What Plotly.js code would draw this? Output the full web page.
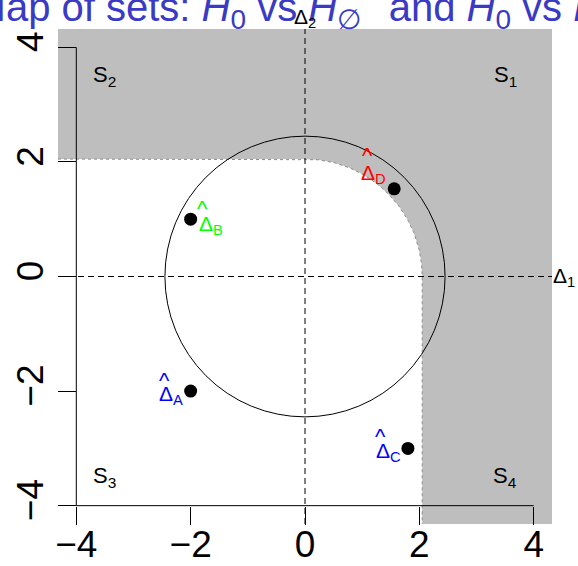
<!DOCTYPE html>
<html>
<head>
<meta charset="utf-8">
<script src="https://cdn.plot.ly/plotly-3.0.1.min.js"></script>
<style>
  html, body { margin: 0; padding: 0; background: #ffffff; }
  #plot { width: 578px; height: 566px; }
</style>
</head>
<body>
<div id="plot"></div>
<script>
// Estimates and their labels
const pointNames = ['A', 'B', 'C', 'D'];
const pointX = [-2, -2, 1.8, 1.56];
const pointY = [-2, 1, -3, 1.53];

// Region labels S1..S4
const regionNames = ['1', '2', '3', '4'];
const regionX = [3.5, -3.5, -3.5, 3.5];
const regionY = [3.5, 3.5, -3.5, -3.5];

// Axis ticks
const tickVals = [-4, -2, 0, 2, 4];
const tickText = ['\u22124', '\u22122', '0', '2', '4'];

// Rejection boundary level and circle radius
const innerLevel = 2.05;
const circleRadius = 2.45;

// ---- styling ----
const AX = 4.32;                // axis extent (R-style 4% padding around ±4)
const FONT = 'Liberation Sans, Arial, Helvetica, sans-serif';
const labelColors = ['#0000ff', '#00ff00', '#0000ff', '#ff0000'];
// pixel placement of each hat-Delta label relative to its point
const labelPlace = [
  { anchor: 'right', dx: -6, dy: -4, hx: -26, hy: 11 },
  { anchor: 'left',  dx: 6,  dy: -6, hx: 12,  hy: 11 },
  { anchor: 'right', dx: -5, dy: -4, hx: -27, hy: 12 },
  { anchor: 'right', dx: -6, dy: 15, hx: -27, hy: 33 }
];

// Gray region: everything outside {x<c, y<c} with the first-quadrant corner
// rounded off by the circle of radius c.
function arcPoints(r, n) {
  const xs = [], ys = [];
  for (let i = 0; i <= n; i++) {
    const t = (Math.PI / 2) * i / n;
    xs.push(r * Math.cos(t));
    ys.push(r * Math.sin(t));
  }
  return { xs, ys };
}
const arc = arcPoints(innerLevel, 90);
// boundary: left edge -> (0,c) -> arc -> (c,0) -> bottom edge
const bX = [-AX, 0].concat(arc.xs.slice().reverse().slice(1)).concat([innerLevel]);
const bY = [innerLevel, innerLevel].concat(arc.ys.slice().reverse().slice(1)).concat([-AX]);
const grayX = [-AX, AX, AX].concat(bX.slice().reverse()).concat([-AX]);
const grayY = [AX, AX, -AX].concat(bY.slice().reverse()).concat([AX]);

const traces = [
  {
    type: 'scatter', mode: 'lines', x: grayX, y: grayY,
    fill: 'toself', fillcolor: '#bebebe', line: { width: 0 },
    hoverinfo: 'skip', showlegend: false
  },
  {
    type: 'scatter', mode: 'lines', x: bX, y: bY,
    line: { color: '#8a8a8a', width: 1, dash: 'dot' },
    hoverinfo: 'skip', showlegend: false
  },
  {
    type: 'scatter', mode: 'markers', x: pointX, y: pointY,
    marker: { color: '#000000', size: 13 },
    hoverinfo: 'skip', showlegend: false
  }
];

const shapes = [
  // circle
  { type: 'circle', xref: 'x', yref: 'y', x0: -circleRadius, x1: circleRadius,
    y0: -circleRadius, y1: circleRadius, line: { color: '#000', width: 1 }, layer: 'above' },
  // dashed reference lines
  { type: 'line', xref: 'x', yref: 'y', x0: 0, x1: 0, y0: -AX, y1: AX,
    line: { color: '#000', width: 1, dash: '6px,4px' }, layer: 'above' },
  { type: 'line', xref: 'x', yref: 'y', x0: -AX, x1: AX, y0: 0, y1: 0,
    line: { color: '#000', width: 1, dash: '6px,4px' }, layer: 'above' },
  // axis lines spanning the tick range
  { type: 'line', xref: 'x', yref: 'y', x0: tickVals[0], x1: tickVals[tickVals.length - 1],
    y0: tickVals[0], y1: tickVals[0], line: { color: '#000', width: 1 }, layer: 'above' },
  { type: 'line', xref: 'x', yref: 'y', x0: tickVals[0], x1: tickVals[0],
    y0: tickVals[0], y1: tickVals[tickVals.length - 1], line: { color: '#000', width: 1 }, layer: 'above' }
];

const annotations = [];
pointNames.forEach((nm, i) => {
  const p = labelPlace[i];
  annotations.push({
    x: pointX[i], y: pointY[i], xref: 'x', yref: 'y',
    text: '\u0394<sub>' + nm + '</sub>', showarrow: false,
    xanchor: p.anchor, yanchor: 'middle', xshift: p.dx, yshift: p.dy,
    font: { family: FONT, size: 21, color: labelColors[i] }
  });
  annotations.push({
    x: pointX[i], y: pointY[i], xref: 'x', yref: 'y',
    text: '^', showarrow: false,
    xanchor: 'center', yanchor: 'middle', xshift: p.hx, yshift: p.hy,
    font: { family: FONT, size: 22, color: labelColors[i] }
  });
});
regionNames.forEach((nm, i) => {
  annotations.push({
    x: regionX[i], y: regionY[i], xref: 'x', yref: 'y',
    text: 'S<sub>' + nm + '</sub>', showarrow: false,
    xanchor: 'center', yanchor: 'middle',
    font: { family: FONT, size: 22, color: '#000' }
  });
});
// axis names
annotations.push({
  x: 1, y: 0, xref: 'paper', yref: 'y', text: '\u0394<sub>1</sub>', showarrow: false,
  xanchor: 'left', yanchor: 'middle', xshift: -1,
  font: { family: FONT, size: 21, color: '#000' }
});
annotations.push({
  x: 0, y: 1, xref: 'x', yref: 'paper', text: '\u0394<sub>2</sub>', showarrow: false,
  xanchor: 'center', yanchor: 'bottom', yshift: -4,
  font: { family: FONT, size: 21, color: '#000' }
});

const frac = (tickVals[0] + AX) / (2 * AX);

const layout = {
  width: 578, height: 566,
  margin: { l: 58, r: 26, t: 29, b: 42, pad: 0 },
  paper_bgcolor: '#ffffff', plot_bgcolor: '#ffffff',
  showlegend: false,
  title: {
    text: 'Map of sets: <i>H</i><sub>0</sub> vs <i>H</i><sub>\u2205</sub><sup>\u2032</sup>  and <i>H</i><sub>0</sub> vs <i>H</i><sub>1</sub>',
    font: { family: FONT, size: 40, color: '#3a3ac4' },
    x: 0.48, xref: 'paper', xanchor: 'center',
    y: 0.988, yref: 'container', yanchor: 'middle'
  },
  xaxis: {
    range: [-AX, AX], anchor: 'free', position: frac,
    tickvals: tickVals, ticktext: tickText, ticks: 'outside', ticklen: 18, tickwidth: 1, tickcolor: '#000',
    ticklabelstandoff: -12,
    showline: false, showgrid: false, zeroline: false,
    tickfont: { family: FONT, size: 37, color: '#000' }
  },
  yaxis: {
    range: [-AX, AX], anchor: 'free', position: frac,
    tickvals: tickVals, ticktext: tickText, ticks: 'outside', ticklen: 18, tickwidth: 1, tickcolor: '#000',
    tickangle: -90,
    showline: false, showgrid: false, zeroline: false,
    tickfont: { family: FONT, size: 37, color: '#000' }
  },
  shapes: shapes,
  annotations: annotations
};

Plotly.newPlot('plot', traces, layout, { displayModeBar: false, staticPlot: true });
</script>
</body>
</html>
